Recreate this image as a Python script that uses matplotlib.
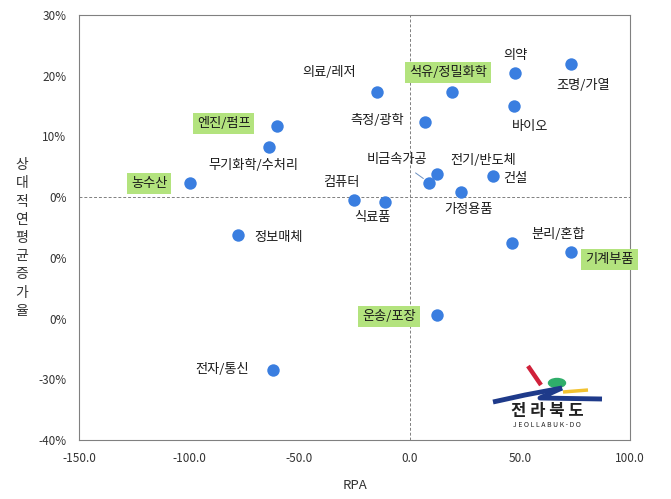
import matplotlib
matplotlib.use('Agg')
import matplotlib.pyplot as plt
from matplotlib.lines import Line2D
from matplotlib.patches import Ellipse
from matplotlib.ticker import FixedLocator

plt.rcParams['font.family'] = ['Noto Sans CJK KR', 'DejaVu Sans']

# data: RPA vs relative average annual growth rate (%)
sectors = ['의료/레저', '엔진/펌프', '무기화학/수처리', '농수산', '컴퓨터', '식료품',
           '정보매체', '의약', '조명/가열', '석유/정밀화학', '바이오', '측정/광학',
           '비금속가공', '전기/반도체', '건설', '가정용품', '분리/혼합', '기계부품',
           '운송/포장', '전자/통신']
rpa = [-14.9, -60.3, -63.8, -99.6, -25.3, -11.0, -77.7, 47.8, 73.2, 19.2,
       47.2, 7.1, 8.8, 12.4, 37.7, 23.4, 46.5, 73.4, 12.4, -62.0]
growth = [17.4, 11.7, 8.3, 2.4, -0.4, -0.8, -6.2, 20.4, 21.9, 17.3,
          15.0, 12.4, 2.4, 3.8, 3.5, 0.9, -7.6, -9.0, -19.4, -28.4]
highlighted = ['엔진/펌프', '농수산', '석유/정밀화학', '기계부품', '운송/포장']
y_ticks = [30, 20, 10, 0, -10, -20, -30, -40]
y_tick_labels = ['30%', '20%', '10%', '0%', '0%', '0%', '-30%', '-40%']
x_ticks = [-150, -100, -50, 0, 50, 100]

# label offsets in pixels (dx, dy)
offsets = {'의료/레저': (-48, 19), '엔진/펌프': (-53, 3), '무기화학/수처리': (-16, -19),
           '농수산': (-41, -1), '컴퓨터': (-13, 17), '식료품': (-13, -16),
           '정보매체': (40, -3), '의약': (0, 18), '조명/가열': (12, -21),
           '석유/정밀화학': (-4, 20), '바이오': (16, -20), '측정/광학': (-48, 1),
           '비금속가공': (-32, 23), '전기/반도체': (46, 14), '건설': (23, -3),
           '가정용품': (7, -18), '분리/혼합': (46, 9), '기계부품': (38, -8),
           '운송/포장': (-48, -2), '전자/통신': (-51, 0)}

W, H = 671, 499
fig = plt.figure(figsize=(W / 100, H / 100), dpi=100)
ax = fig.add_axes([79 / W, 1 - 440 / H, 551 / W, 425 / H])

ax.scatter(rpa, growth, s=80, color='#3a7ee0', zorder=3, linewidths=0)
ax.axhline(0, color='#808080', lw=0.7, ls=(0, (3, 2)), zorder=1)
ax.axvline(0, color='#808080', lw=0.7, ls=(0, (3, 2)), zorder=1)

for name, x, y in zip(sectors, rpa, growth):
    dx, dy = offsets[name]
    kw = {}
    if name in highlighted:
        kw['bbox'] = dict(boxstyle='square,pad=0.3', fc='#b3e37e', ec='none')
    if name == '비금속가공':
        kw['arrowprops'] = dict(arrowstyle='-', color='#6b8fc0', lw=0.7,
                                shrinkA=5, shrinkB=5)
    ax.annotate(name, (x, y), xytext=(dx, dy), textcoords='offset pixels',
                ha='center', va='center', fontsize=9.5, color='#1a1a1a',
                zorder=4, annotation_clip=False, **kw)

ax.set_xlim(-150, 100)
ax.set_ylim(-40, 30)
ax.xaxis.set_major_locator(FixedLocator(x_ticks))
ax.set_xticklabels(['%.1f' % v for v in x_ticks])
ax.yaxis.set_major_locator(FixedLocator(y_ticks))
ax.set_yticklabels(y_tick_labels)
ax.tick_params(length=0, labelsize=8.5, labelcolor='#333333', pad=9)
for sp in ax.spines.values():
    sp.set_color('#808080')
    sp.set_linewidth(0.8)

ax.set_xlabel('RPA', fontsize=9.5, color='#333333', labelpad=10)
fig.text(22 / W, 1 - 238 / H, '\n'.join('상대적연평균증가율'), ha='center',
         va='center', fontsize=10, color='#333333', linespacing=1.38)


# logo (drawn in figure pixel coordinates)
def fp(px, py):
    return px / W, 1 - py / H


tf = fig.transFigure
for pts, col, lw in [([(528, 366), (541, 385)], '#d0213a', 3.2),
                     ([(563, 392), (588, 390)], '#f2c230', 2.5),
                     ([(493, 402), (525, 395), (562, 388)], '#1e3a8a', 3.5),
                     ([(562, 388), (540, 398), (602, 399)], '#1e3a8a', 3.5)]:
    xs, ys = zip(*[fp(*p) for p in pts])
    fig.add_artist(Line2D(xs, ys, transform=tf, color=col, lw=lw,
                          solid_capstyle='butt'))
fig.add_artist(Ellipse(fp(557, 383), 17 / W, 9 / H, transform=tf,
                       color='#2fae6a'))
fig.text(*fp(547, 411), '전 라 북 도', ha='center', va='center', fontsize=12,
         fontweight='heavy', color='#222222')
fig.text(*fp(547, 425), 'J E O L L A B U K - D O', ha='center', va='center',
         fontsize=5, color='#222222')

fig.savefig('out.png', dpi=100)
